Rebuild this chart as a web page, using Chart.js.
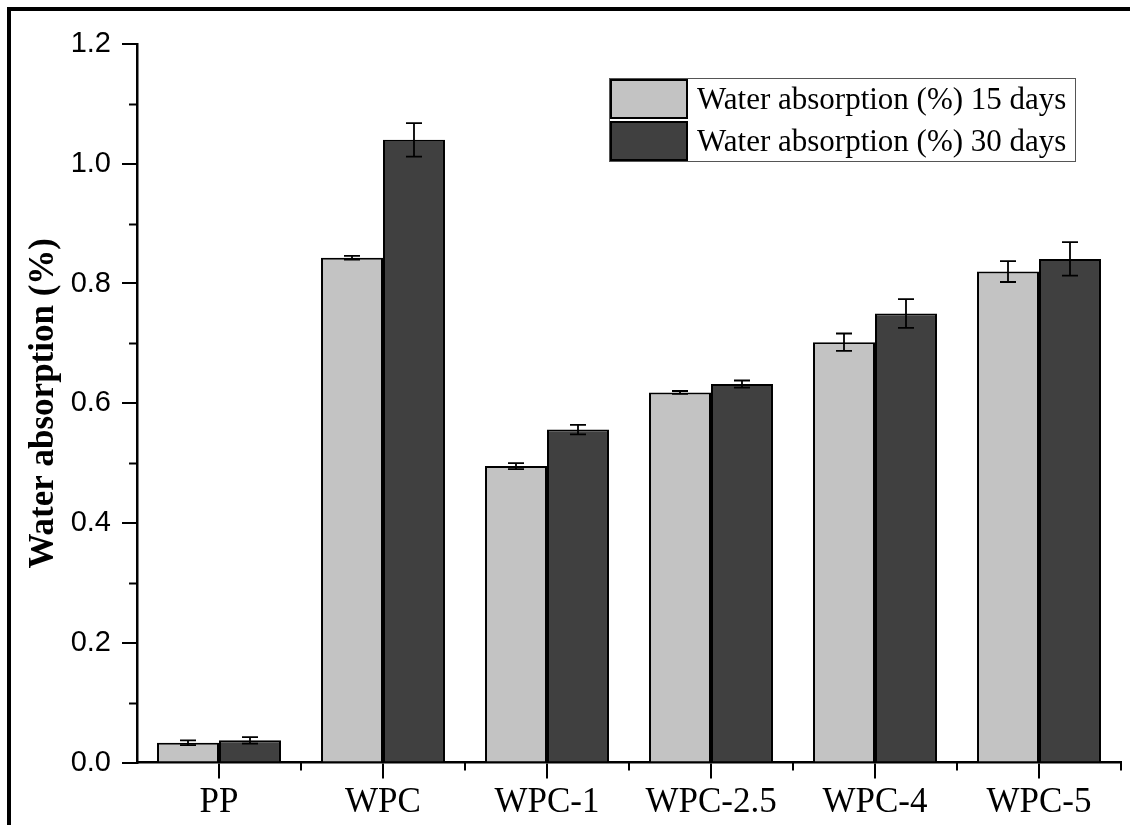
<!DOCTYPE html>
<html>
<head>
<meta charset="utf-8">
<script src="https://cdn.jsdelivr.net/npm/chart.js@4"></script>
<style>
html,body{margin:0;padding:0;background:#fff;}
canvas{display:block;}
</style>
</head>
<body>
<canvas id="c" width="1130" height="825"></canvas>
<script>
const categories = ['PP', 'WPC', 'WPC-1', 'WPC-2.5', 'WPC-4', 'WPC-5'];
const seriesLabels = ['Water absorption (%) 15 days', 'Water absorption (%) 30 days'];
const values15 = [0.033, 0.843, 0.495, 0.618, 0.702, 0.820];
const values30 = [0.037, 1.040, 0.556, 0.632, 0.750, 0.841];
const errors15 = [0.004, 0.003, 0.005, 0.0025, 0.0145, 0.0175];
const errors30 = [0.0055, 0.028, 0.008, 0.006, 0.024, 0.028];
const yTickValues = [0, 0.2, 0.4, 0.6, 0.8, 1.0, 1.2];
const yMinorValues = [0.1, 0.3, 0.5, 0.7, 0.9, 1.1];
const yTitle = 'Water absorption (%)';

const errorSets = [errors15, errors30];
const colors = ['#c3c3c3', '#404040'];

const serif = "'Liberation Serif', 'Times New Roman', serif";
const sans = "'Liberation Sans', Arial, sans-serif";

const extras = {
  id: 'extras',
  afterDatasetsDraw(chart) {
    const ctx = chart.ctx;
    const y = chart.scales.y;
    ctx.save();
    ctx.strokeStyle = '#000';
    ctx.lineWidth = 1.8;
    chart.data.datasets.forEach((ds, d) => {
      const meta = chart.getDatasetMeta(d);
      meta.data.forEach((bar, i) => {
        const v = ds.data[i], e = errorSets[d][i];
        const yt = y.getPixelForValue(v + e), yb = y.getPixelForValue(v - e);
        const x = bar.x;
        ctx.beginPath();
        ctx.moveTo(x, yt); ctx.lineTo(x, yb);
        ctx.moveTo(x - 8, yt); ctx.lineTo(x + 8, yt);
        ctx.moveTo(x - 8, yb); ctx.lineTo(x + 8, yb);
        ctx.stroke();
      });
    });
    ctx.restore();
  },
  afterDraw(chart) {
    const ctx = chart.ctx;
    const ys = chart.scales.y;
    const area = chart.chartArea;
    ctx.save();
    ctx.strokeStyle = '#000';
    ctx.lineWidth = 2;
    yMinorValues.forEach(v => {
      const py = Math.round(ys.getPixelForValue(v)) + 0.5;
      ctx.beginPath(); ctx.moveTo(area.left - 8, py); ctx.lineTo(area.left, py); ctx.stroke();
    });
    const w = (area.right - area.left) / categories.length;
    for (let i = 1; i <= categories.length; i++) {
      const px = Math.round(area.left + i * w);
      ctx.beginPath(); ctx.moveTo(px, area.bottom); ctx.lineTo(px, area.bottom + 8); ctx.stroke();
    }
    // legend
    const lx = 609, ly = 78, lw = 466, lh = 83;
    ctx.fillStyle = '#fff';
    ctx.fillRect(lx, ly, lw, lh);
    ctx.lineWidth = 1;
    ctx.strokeStyle = '#555';
    ctx.strokeRect(lx + 0.5, ly + 0.5, lw, lh);
    chart.data.datasets.forEach((ds, d) => {
      const sy = ly + 2 + d * 42;
      ctx.fillStyle = ds.backgroundColor;
      ctx.fillRect(lx + 2, sy, 76, 38);
      ctx.lineWidth = 2;
      ctx.strokeStyle = '#000';
      ctx.strokeRect(lx + 2, sy, 76, 38);
      ctx.fillStyle = '#000';
      ctx.font = '31px ' + serif;
      ctx.textBaseline = 'middle';
      ctx.textAlign = 'left';
      ctx.fillText(ds.label, lx + 88, sy + 21);
    });
    ctx.fillStyle = '#000';
    ctx.fillRect(7, 7, 1123, 4);
    ctx.fillRect(7, 7, 4, 818);
    ctx.restore();
  }
};

new Chart(document.getElementById('c'), {
  type: 'bar',
  data: {
    labels: categories,
    datasets: [
      { label: seriesLabels[0], data: values15, backgroundColor: colors[0], borderColor: '#000', borderWidth: 2, borderSkipped: 'start' },
      { label: seriesLabels[1], data: values30, backgroundColor: colors[1], borderColor: '#000', borderWidth: 2, borderSkipped: 'start' }
    ]
  },
  options: {
    responsive: false,
    animation: false,
    devicePixelRatio: 1,
    layout: { padding: { top: 44, right: 9, left: 0, bottom: 0 } },
    datasets: { bar: { categoryPercentage: 0.756, barPercentage: 1.0 } },
    plugins: { legend: { display: false }, tooltip: { enabled: false } },
    scales: {
      x: {
        offset: true,
        grid: { display: true, drawOnChartArea: false, drawTicks: true, tickLength: 16, offset: false, color: '#000', lineWidth: 2 },
        border: { display: true, color: '#000', width: 2.5 },
        ticks: { color: '#000', font: { family: serif, size: 35 }, padding: 3, maxRotation: 0, autoSkip: false },
        afterFit(s) { s.height = 62.5; }
      },
      y: {
        min: 0, max: 1.2,
        afterBuildTicks(s) { s.ticks = yTickValues.map(v => ({ value: v })); },
        grid: { display: true, drawOnChartArea: false, drawTicks: true, tickLength: 15, color: '#000', lineWidth: 2 },
        border: { display: true, color: '#000', width: 2.5 },
        ticks: { color: '#000', font: { family: sans, size: 29 }, padding: 11, callback: v => Number(v).toFixed(1) },
        title: { display: true, text: yTitle, color: '#000', font: { family: serif, size: 35, weight: 'bold' }, padding: { top: 23, bottom: 0 } },
        afterFit(s) { s.width = 137; }
      }
    }
  },
  plugins: [extras]
});
</script>
</body>
</html>
